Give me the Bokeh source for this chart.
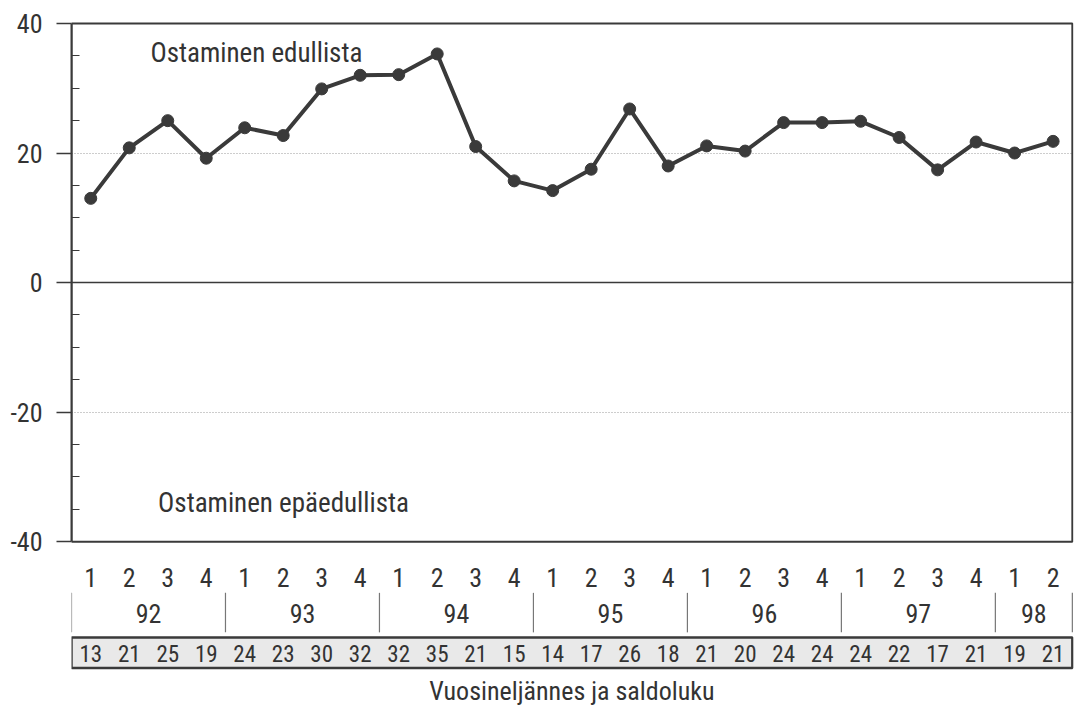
from bokeh.plotting import figure
from bokeh.models import Range1d, FixedTicker, Span, ColumnDataSource
from bokeh.core.properties import value
from bokeh.embed import file_html
from bokeh.resources import INLINE

# ---- data ----
quarter_labels = ["1", "2", "3", "4", "1", "2", "3", "4", "1", "2", "3", "4",
                  "1", "2", "3", "4", "1", "2", "3", "4", "1", "2", "3", "4",
                  "1", "2"]
year_labels = ["92", "93", "94", "95", "96", "97", "98"]
balance = [13.0, 20.8, 25.0, 19.2, 23.9, 22.7, 29.9, 32.0, 32.1, 35.3, 21.0,
           15.7, 14.2, 17.5, 26.8, 18.0, 21.1, 20.3, 24.7, 24.7, 24.9, 22.4,
           17.4, 21.7, 20.0, 21.8]
saldo_labels = ["13", "21", "25", "19", "24", "23", "30", "32", "32", "35",
                "21", "15", "14", "17", "26", "18", "21", "20", "24", "24",
                "24", "22", "17", "21", "19", "21"]
y_ticks = [-40, -20, 0, 20, 40]
y_tick_labels = ["-40", "-20", "0", "20", "40"]
y_minor = [-35, -30, -25, -15, -10, -5, 5, 10, 15, 25, 30, 35]
note_top = "Ostaminen edullista"
note_bottom = "Ostaminen epäedullista"
x_title = "Vuosineljännes ja saldoluku"

FONT_NAME = "Roboto Condensed, DejaVu Sans Condensed, Roboto"
FONT = value(FONT_NAME)
TXT = "#333333"
INK = "#3a3a3a"

n = len(balance)
xs = list(range(n))

p = figure(width=1074, height=707, output_backend="svg", toolbar_location=None,
           x_range=Range1d(-0.5, n - 0.47), y_range=Range1d(-65.6, 40.46),
           x_axis_location=None, min_border_left=71, min_border_right=1,
           min_border_top=20, min_border_bottom=0)
p.outline_line_color = None
p.background_fill_color = "white"
p.border_fill_color = "white"

# y axis
ya = p.yaxis[0]
ya.ticker = FixedTicker(ticks=y_ticks, minor_ticks=y_minor)
ya.major_label_overrides = dict(zip(y_ticks, y_tick_labels))
ya.bounds = (-40, 40)
ya.axis_line_color = INK
ya.axis_line_width = 2
ya.major_tick_out = 15
ya.major_tick_in = 0
ya.major_tick_line_color = INK
ya.major_tick_line_width = 1.5
ya.minor_tick_in = 8
ya.minor_tick_out = 0
ya.minor_tick_line_color = INK
ya.minor_tick_line_width = 1.2
ya.major_label_standoff = 14
ya.major_label_text_font = FONT_NAME
ya.major_label_text_font_size = "26px"
ya.major_label_text_color = TXT

p.xgrid.visible = False
p.ygrid.ticker = FixedTicker(ticks=[-20, 20])
p.ygrid.grid_line_color = "#9a9a9a"
p.ygrid.grid_line_dash = "1 2"
p.ygrid.grid_line_width = 1

# zero line
p.add_layout(Span(location=0, dimension="width", line_color=INK, line_width=1.5))

# plot box
p.quad(left=[-0.5], right=[n - 0.5], top=[40], bottom=[-40],
       fill_color=None, line_color=INK, line_width=2)

# data
src = ColumnDataSource(dict(x=xs, y=balance))
p.line("x", "y", source=src, line_color=INK, line_width=4)
p.scatter("x", "y", source=src, size=12, fill_color=INK, line_color=INK)

# notes
p.text(x=[1.55], y=[35.5], text=[note_top], text_font=FONT, text_font_size="27px",
       text_color=TXT, text_align="left", text_baseline="middle")
p.text(x=[1.75], y=[-34.0], text=[note_bottom], text_font=FONT, text_font_size="27px",
       text_color=TXT, text_align="left", text_baseline="middle")

# quarter labels
p.text(x=xs, y=[-45.6] * n, text=quarter_labels, text_font=FONT,
       text_font_size="26px", text_color=TXT, text_align="center",
       text_baseline="middle")

# year groups from quarter labels
starts = [i for i, q in enumerate(quarter_labels) if q == "1"]
ends = starts[1:] + [n]
bounds = [s - 0.5 for s in starts] + [n - 0.5]
p.segment(x0=bounds, x1=bounds, y0=[-47.9] * len(bounds), y1=[-54.0] * len(bounds),
          line_color="#777777", line_width=1.2)
mids = [(s + e - 1) / 2 for s, e in zip(starts, ends)]
p.text(x=mids, y=[-51.1] * len(mids), text=year_labels, text_font=FONT,
       text_font_size="26px", text_color=TXT, text_align="center",
       text_baseline="middle")

# saldo row
p.quad(left=[-0.5], right=[n - 0.5], top=[-54.8], bottom=[-59.5],
       fill_color="#e9e9e9", line_color=INK, line_width=2.5)
p.text(x=xs, y=[-57.2] * n, text=saldo_labels, text_font=FONT,
       text_font_size="23px", text_color=TXT, text_align="center",
       text_baseline="middle")

# x title
p.text(x=[(n - 1) / 2], y=[-63.0], text=[x_title], text_font=FONT,
       text_font_size="26px", text_color=TXT, text_align="center",
       text_baseline="middle")

open("out.html", "w").write(file_html(p, INLINE))
